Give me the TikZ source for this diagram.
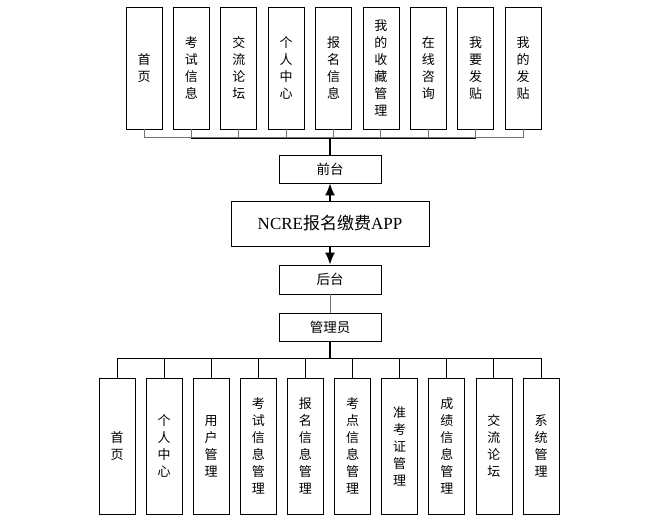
\documentclass[tikz,border=0pt]{standalone}
\usepackage{fontspec}
\setmainfont{Noto Sans CJK SC}
\newfontfamily\latinserif{Liberation Serif}
\usetikzlibrary{arrows.meta}

\tikzset{
    colbox/.style={draw, line width=0.8pt, minimum width=36pt, inner sep=0pt,
        align=center, font=\fontsize{13}{17}\selectfont},
    topbox/.style={colbox, minimum height=122pt},
    lowbox/.style={colbox, minimum height=136pt},
    midbox/.style={draw, line width=0.8pt, minimum width=102pt, minimum height=28pt,
        inner sep=0pt, font=\fontsize{13.5}{15}\selectfont},
    link/.style={line width=0.9pt},
    graylink/.style={line width=1pt, draw=gray!90!black},
    trunk/.style={line width=1.7pt},
}

\begin{document}
\begin{tikzpicture}[x=1pt, y=-1pt]
            \useasboundingbox (0, 0) rectangle (656, 520);

            % front end modules
            \node (t1) at (144, 68) [topbox] {首\\页};
            \node (t2) at (191.4, 68) [topbox] {考\\试\\信\\息};
            \node (t3) at (238.8, 68) [topbox] {交\\流\\论\\坛};
            \node (t4) at (286.1, 68) [topbox] {个\\人\\中\\心};
            \node (t5) at (333.5, 68) [topbox] {报\\名\\信\\息};
            \node (t6) at (380.9, 68) [topbox] {我\\的\\收\\藏\\管\\理};
            \node (t7) at (428.3, 68) [topbox] {在\\线\\咨\\询};
            \node (t8) at (475.6, 68) [topbox] {我\\要\\发\\贴};
            \node (t9) at (523, 68) [topbox] {我\\的\\发\\贴};

            % middle column
            \node (qt) at (330, 169) [midbox] {前台};
            \node (app) at (330, 223.5) [draw, line width=0.8pt, minimum width=198pt,
                minimum height=45pt, inner sep=0pt, font=\fontsize{17}{20}\selectfont]
                {{\latinserif NCRE}报名缴费{\latinserif APP}};
            \node (ht) at (330, 279.5) [midbox, minimum height=29pt] {后台};
            \node (gly) at (330, 327) [midbox] {管理员};

            % back end modules
            \node (b1) at (117, 446) [lowbox] {首\\页};
            \node (b2) at (164.1, 446) [lowbox] {个\\人\\中\\心};
            \node (b3) at (211.2, 446) [lowbox] {用\\户\\管\\理};
            \node (b4) at (258.3, 446) [lowbox] {考\\试\\信\\息\\管\\理};
            \node (b5) at (305.4, 446) [lowbox] {报\\名\\信\\息\\管\\理};
            \node (b6) at (352.6, 446) [lowbox] {考\\点\\信\\息\\管\\理};
            \node (b7) at (399.7, 446) [lowbox] {准\\考\\证\\管\\理};
            \node (b8) at (446.8, 446) [lowbox] {成\\绩\\信\\息\\管\\理};
            \node (b9) at (493.9, 446) [lowbox] {交\\流\\论\\坛};
            \node (b10) at (541, 446) [lowbox] {系\\统\\管\\理};

            \coordinate (topbus) at (0, 137.5);
            \coordinate (lowbus) at (0, 358);

            % upper tree
            \draw[graylink] (t1.south) -- (t1.south |- topbus)
                -- (t9.south |- topbus) -- (t9.south);
            \draw[graylink] (t2.south) -- (t2.south |- topbus)
                (t3.south) -- (t3.south |- topbus)
                (t4.south) -- (t4.south |- topbus)
                (t5.south) -- (t5.south |- topbus)
                (t6.south) -- (t6.south |- topbus)
                (t7.south) -- (t7.south |- topbus)
                (t8.south) -- (t8.south |- topbus);
            \draw[link] ([yshift=-0.6pt]t2.south |- topbus) -- ([yshift=-0.6pt]t8.south |- topbus);
            \draw[trunk] (qt.north) -- (qt.north |- topbus);

            % arrows out of the app box
            \draw[trunk, -{Latex[length=12pt, width=10pt]}] (app.north) -- (qt.south);
            \draw[trunk, -{Latex[length=12pt, width=10pt]}] (app.south) -- (ht.north);
            \draw[graylink] (ht.south) -- (gly.north);

            % lower tree
            \draw[trunk] (gly.south) -- (gly.south |- lowbus);
            \draw[link] (b1.north) -- (b1.north |- lowbus)
                -- (b10.north |- lowbus) -- (b10.north);
            \draw[link] (b2.north) -- (b2.north |- lowbus)
                (b3.north) -- (b3.north |- lowbus)
                (b4.north) -- (b4.north |- lowbus)
                (b5.north) -- (b5.north |- lowbus)
                (b6.north) -- (b6.north |- lowbus)
                (b7.north) -- (b7.north |- lowbus)
                (b8.north) -- (b8.north |- lowbus)
                (b9.north) -- (b9.north |- lowbus);
        \end{tikzpicture}
\end{document}
